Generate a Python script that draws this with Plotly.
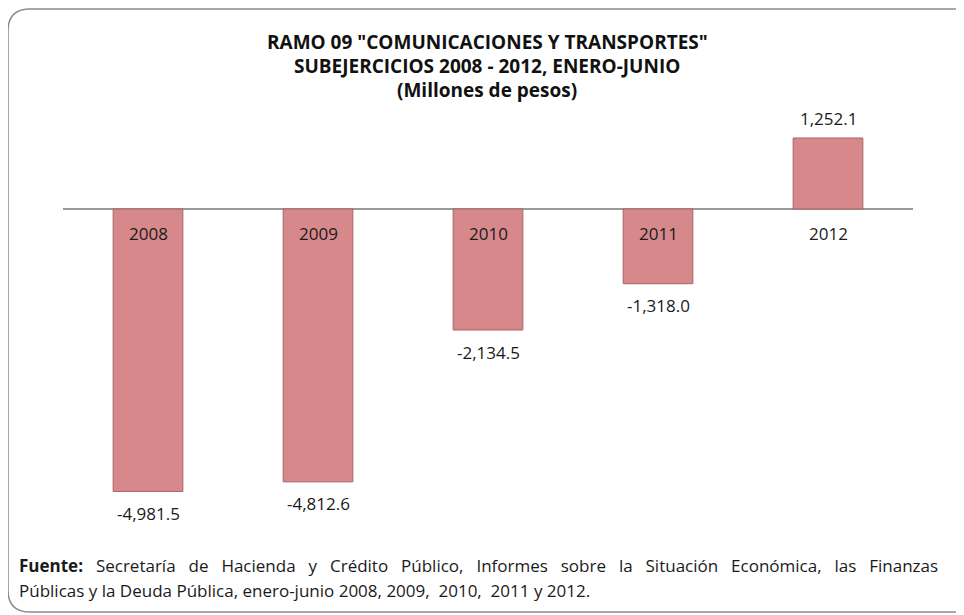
import plotly.graph_objects as go

# RAMO 09 subejercicios, enero-junio (millones de pesos)
years = ["2008", "2009", "2010", "2011", "2012"]
values = [-4981.5, -4812.6, -2134.5, -1318.0, 1252.1]
value_labels = ["-4,981.5", "-4,812.6", "-2,134.5", "-1,318.0", "1,252.1"]

title_lines = [
    'RAMO 09 "COMUNICACIONES Y TRANSPORTES"',
    "SUBEJERCICIOS 2008 - 2012, ENERO-JUNIO",
    "(Millones de pesos)",
]
source_lines = [
    "<b>Fuente:</b> Secretaría de Hacienda y Crédito Público, Informes sobre la Situación Económica, las Finanzas",
    "Públicas y la Deuda Pública, enero-junio 2008, 2009,  2010,  2011 y 2012.",
]

FONT = "Open Sans"
OFF = 8  # the page body has an 8px margin, so work in page pixels and subtract it
W, H = 964 - OFF, 615 - OFF
PLOT_L, PLOT_R, PLOT_T, PLOT_B = 63, 913, 100, 540   # plot area in page pixels
ML, MR = PLOT_L - OFF, W - (PLOT_R - OFF)
MT, MB = PLOT_T - OFF, H - (PLOT_B - OFF)
PW, PH = PLOT_R - PLOT_L, PLOT_B - PLOT_T


def px_x(x):
    return (x - PLOT_L) / PW


def px_y(y):
    return (PLOT_B - y) / PH


fig = go.Figure()
fig.add_trace(go.Bar(
    x=years, y=values, width=0.41,
    marker=dict(color="#d7888b", line=dict(color="#a86466", width=1)),
    hoverinfo="x+y",
))

annotations = []
for i, (yr, v, lab) in enumerate(zip(years, values, value_labels)):
    annotations.append(dict(
        x=i, y=v, text=lab, showarrow=False, xref="x", yref="y",
        yanchor="middle", yshift=19 if v > 0 else -22,
        font=dict(family=FONT, size=17, color="#1a1a1a"),
    ))
    annotations.append(dict(
        x=i, y=0, text=yr, showarrow=False, xref="x", yref="y",
        yanchor="middle", yshift=-25,
        font=dict(family=FONT, size=17, color="#1a1a1a"),
    ))

for i, line in enumerate(title_lines):
    annotations.append(dict(
        x=px_x(487), y=px_y(42 + 24 * i), xref="paper", yref="paper",
        text="<b>" + line + "</b>", showarrow=False,
        xanchor="center", yanchor="middle",
        font=dict(family=FONT, size=19, color="#111111"),
    ))

# first line of the source note is justified in the original, widen its gaps
gap = " \u2002"
for i, line in enumerate(source_lines):
    if i == 0:
        line = line.replace(" ", gap).replace("<b>Fuente:</b>" + gap, "<b>Fuente:</b> ")
        line = line.replace("<b>Fuente:</b> ", "<b>Fuente:</b>" + gap)
    annotations.append(dict(
        x=px_x(17), y=px_y(565 + 25 * i), xref="paper", yref="paper",
        text=line, showarrow=False, xanchor="left", yanchor="middle",
        font=dict(family=FONT, size=17, color="#1a1a1a"),
    ))

# rounded border of the chart area (page pixels)
x0, x1, y0, y1, r = 8, 975, 9, 612, 22
path = (
    f"M {px_x(x0 + r)},{px_y(y0)} L {px_x(x1 - r)},{px_y(y0)} "
    f"Q {px_x(x1)},{px_y(y0)} {px_x(x1)},{px_y(y0 + r)} "
    f"L {px_x(x1)},{px_y(y1 - r)} Q {px_x(x1)},{px_y(y1)} {px_x(x1 - r)},{px_y(y1)} "
    f"L {px_x(x0 + r)},{px_y(y1)} Q {px_x(x0)},{px_y(y1)} {px_x(x0)},{px_y(y1 - r)} "
    f"L {px_x(x0)},{px_y(y0 + r)} Q {px_x(x0)},{px_y(y0)} {px_x(x0 + r)},{px_y(y0)} Z"
)

fig.update_layout(
    width=W, height=H,
    margin=dict(l=ML, r=MR, t=MT, b=MB),
    paper_bgcolor="white", plot_bgcolor="white",
    showlegend=False,
    annotations=annotations,
    shapes=[dict(type="path", path=path, xref="paper", yref="paper",
                 line=dict(color="#8c8c8c", width=1.5), layer="below")],
    xaxis=dict(type="category", showticklabels=False, showgrid=False,
               showline=False, zeroline=False, range=[-0.5, 4.5]),
    yaxis=dict(range=[-5838, 1922], showticklabels=False, showgrid=False,
               zeroline=True, zerolinecolor="#9a9a9a", zerolinewidth=2,
               showline=False),
    font=dict(family=FONT),
)

fig.write_html("out.html")
